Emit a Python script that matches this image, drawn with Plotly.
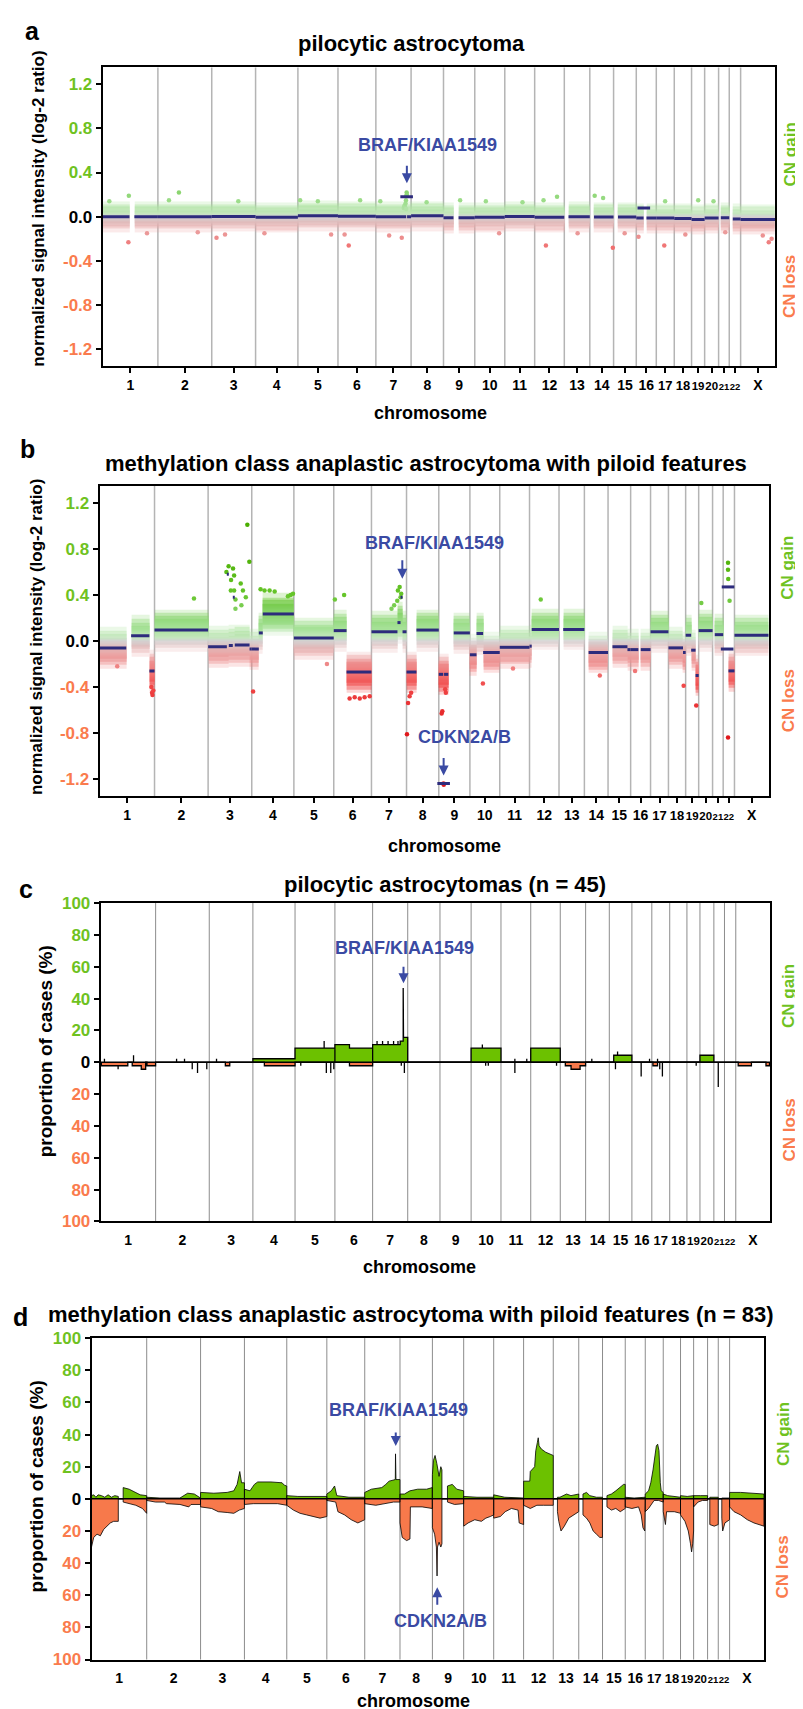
import numpy as np
import plotly.graph_objects as go

W, H = 803, 1709
FONT = "Liberation Sans, Arial, Helvetica, sans-serif"
GREEN = "#6fc21f"
ORANGE = "#fa7b4d"
BLUE = "#3a4aa3"
NAVY = "#2d2b7c"
FILL_G = "#6cc100"
FILL_L = "#f7794b"

# ---------------- genome ----------------
chrom_names = [str(i) for i in range(1, 23)] + ["X"]
chrom_len = [249.25, 243.20, 198.02, 191.15, 180.92, 171.12, 159.14, 146.36, 141.21,
             135.53, 135.01, 133.85, 115.17, 107.35, 102.53, 90.35, 81.20, 78.08,
             59.13, 63.03, 48.13, 51.30, 155.27]

# ---------------- panel a : segments (chrom, start Mb, end Mb, log2 mean) ----------------
a_seg_chr = [1, 1, 2, 3, 4, 5, 6, 7, 7, 7, 8, 9, 9, 10, 11, 12, 13, 14, 15, 16, 16, 16, 17, 18, 19, 20, 21, 22, 23]
a_seg_start = [0, 143, 0, 0, 0, 0, 0, 0, 137, 141, 0, 0, 68, 0, 0, 0, 19, 19, 20, 0, 33, 46, 0, 0, 0, 0, 10, 16, 0]
a_seg_end = [121, 249.25, 243.2, 198, 191.15, 180.9, 171.1, 137, 141, 159.1, 146.4, 45, 141.2, 135.5, 135, 133.8,
             115.2, 107.3, 102.5, 33, 35, 90.35, 81.2, 78.1, 59.1, 63, 48.1, 51.3, 155.3]
a_seg_mean = [0, 0, 0, 0.003, -0.005, 0.01, 0.005, 0, 0.18, 0, 0.008, -0.01, -0.01, -0.005, 0.003, -0.005,
              0, -0.003, -0.003, -0.012, 0.08, -0.012, -0.012, -0.015, -0.025, -0.012, -0.01, -0.02, -0.025]

a_out_chr = [1, 6, 12, 14, 17, 23, 3, 7, 1, 2, 14, 12, 9,
             7, 7, 7, 7, 7, 7, 7, 7, 7,
             1, 1, 2, 2, 3, 3, 4, 5, 5, 5, 6, 6, 7, 7, 8, 10, 10, 11, 12, 13, 14, 15, 16, 17, 18, 19, 20, 21, 23, 23]
a_out_pos = [116, 48.5, 50.7, 104, 36, 127, 21.5, 117, 118, 95, 22, 101, 75,
             126, 129, 131, 134, 136, 138, 139, 140, 137,
             30, 200, 50, 180, 120, 60, 40, 10, 90, 150, 100, 30, 20, 60, 70, 50, 110, 80, 40, 60, 60, 50, 10, 40, 50, 30, 40, 30, 100, 140]
a_out_val = [-0.23, -0.26, -0.26, -0.28, -0.26, -0.23, -0.19, -0.19, 0.19, 0.22, 0.19, 0.18, 0.15,
             0.08, 0.10, 0.09, 0.12, 0.15, 0.19, 0.22, 0.20, 0.07,
             0.14, -0.15, 0.15, -0.14, 0.14, -0.16, -0.15, 0.15, 0.14, -0.16, 0.15, -0.16, 0.14, -0.17,
             0.13, 0.14, -0.15, 0.13, 0.15, -0.15, 0.17, -0.15, -0.18, 0.14, -0.16, 0.15, 0.14, -0.14, -0.17, -0.2]

# ---------------- panel b : segments ----------------
b_seg_chr = [1, 1, 1, 2, 3, 3, 3, 3, 3, 3, 4, 4, 4, 5, 6, 6, 7, 7, 7, 7, 8, 8, 9, 9, 9, 9, 10, 10, 10, 11, 12, 12,
             13, 14, 15, 15, 16, 16, 17, 18, 18, 19, 19, 19, 20, 21, 22, 22, 22, 23]
b_seg_start = [0, 143, 226, 0, 0, 85, 94, 112, 121, 188, 0, 32, 50, 0, 0, 58, 0, 118, 132, 141, 0, 45, 0, 20, 24, 68,
               0, 30, 60, 0, 0, 10, 19, 19, 20, 88, 0, 46, 0, 0, 66, 0, 25, 45, 0, 10, 16, 20, 24, 0]
b_seg_end = [121, 226, 249.25, 243.2, 85, 94, 112, 121, 188, 198, 32, 50, 191.15, 180.9, 58, 171.1, 118, 132, 141,
             159.1, 45, 146.4, 20, 24, 43, 141.2, 30, 60, 135.5, 135, 10, 133.8, 115.2, 107.3, 88, 102.5, 35, 90.35,
             81.2, 66, 78.1, 25, 45, 59.1, 63, 48.1, 20, 24, 51.3, 155.3]
b_seg_mean = [-0.06, 0.045, -0.26, 0.095, -0.05, 0.58, -0.04, 0.38, -0.035, -0.07, -0.07, 0.07, 0.235, 0.025,
              0.09, -0.27, 0.08, 0.16, 0.38, 0.08, -0.27, 0.095, -0.29, -1.24, -0.29, 0.07, -0.12, 0.065, -0.10,
              -0.055, -0.045, 0.10, 0.10, -0.10, -0.05, -0.075, -0.075, -0.075, 0.08, -0.06, -0.10, 0.05, -0.08,
              -0.30, 0.09, 0.055, -0.07, 0.47, -0.26, 0.05]

b_out_chr = [3] * 15 + [4] * 8 + [1] * 4 + [6] * 7 + [8] * 4 + [9] * 6 + [7] * 7 + [22] * 5 + \
            [19, 18, 10, 2, 12, 20, 1, 5, 11, 14, 16]
b_out_pos = [93, 83, 113, 118, 104, 103, 118, 124, 148, 158, 171, 151, 187, 178, 124,
             40, 58, 81, 104, 164, 176, 187, 6,
             235, 238, 240, 244,
             72, 95, 118, 140, 163, 47, 5,
             7, 14, 21, 2,
             16, 13, 29, 32, 21.5, 22.5,
             120, 128, 135, 117, 103, 91, 132,
             22, 22, 23, 29, 22,
             48, 69, 59, 179, 51, 12, 80, 150, 60, 70, 20]
b_out_val = [0.65, 0.60, 0.63, 0.57, 0.53, 0.44, 0.44, 0.36, 0.50, 0.44, 0.38, 0.31, 0.69, 1.01, 0.28,
             0.45, 0.44, 0.44, 0.43, 0.39, 0.40, 0.41, -0.44,
             -0.40, -0.45, -0.47, -0.43,
             -0.50, -0.49, -0.50, -0.49, -0.48, 0.40, 0.36,
             -0.54, -0.48, -0.45, -0.81,
             -0.61, -0.63, -0.42, -0.45, -1.24, -1.25,
             0.44, 0.47, 0.41, 0.35, 0.31, 0.28, 0.38,
             0.68, 0.62, 0.54, 0.35, -0.84,
             -0.56, -0.39, -0.37, 0.37, 0.36, 0.33, -0.22, -0.2, -0.24, -0.3, -0.26]

# ---------------- panel c : proportion of cases (n = 45) ----------------
c_gain_chr = [4, 5, 6, 6, 7, 7, 7, 7, 10, 12, 15, 20]
c_gain_start = [0, 0, 0, 66, 0, 125, 138.6, 140, 0, 0, 20, 0]
c_gain_end = [191.15, 180.9, 66, 171.1, 125, 138.6, 140, 159.1, 135.5, 133.8, 102.5, 63]
c_gain_val = [2.2, 8.9, 11.1, 8.9, 11.1, 13.3, 46.7, 15.6, 8.9, 8.9, 4.4, 4.4]

c_loss_chr = [1, 1, 1, 1, 3, 4, 6, 13, 13, 13, 17, 23, 23]
c_loss_start = [3, 143, 184, 210, 73, 52, 66, 23, 49, 90, 5, 11, 137]
c_loss_end = [123, 184, 204, 249, 93, 191.15, 171.1, 49, 90, 115, 26, 71, 153]
c_loss_val = [-2.2, -2.2, -4.4, -2.2, -2.2, -2.2, -2.2, -2.2, -4.4, -2.2, -2.2, -2.2, -2.2]

c_spike_chr = [1, 1, 2, 2, 3, 5, 7, 7, 7, 7, 7, 10, 11, 11, 14, 15, 16, 17,
               1, 2, 2, 2, 5, 5, 5, 5, 7, 7, 10, 10, 11, 12, 15, 16, 17, 17, 19, 21]
c_spike_pos = [17, 149, 95, 131, 33, 132, 20, 45, 70, 95, 115, 51, 63, 117, 28, 37.5, 80, 26,
               79, 166, 190, 232, 26, 142, 162, 176, 130, 144, 66, 78, 63, 117, 28, 42, 36, 48, 42, 20]
c_spike_val = [2.2, 4.4, 2.2, 2.2, 2.2, 13.3, 13.3, 13.3, 13.3, 13.3, 13.3, 11.1, 2.2, 2.2, 2.2, 6.7, 2.2, 2.2,
               -4.4, -4.4, -6.7, -4.4, -2.2, -6.7, -6.7, -4.4, -2.2, -6.7, -2.2, -2.2, -6.7, -2.2, -4.4, -8.9,
               -4.4, -8.9, -2.2, -15.6]

# ---------------- panel d : proportion of cases (n = 83), per chromosome ----------------
d_gain_pos = [
    [0, 10, 20, 30, 45, 60, 75, 90, 105, 121, 121, 143, 143, 170, 195, 220, 249],
    [0, 60, 120, 150, 185, 215, 243],
    [0, 60, 120, 150, 165, 177, 185, 198],
    [0, 25, 45, 60, 120, 170, 180, 191],
    [0, 50, 181],
    [0, 20, 35, 45, 100, 171],
    [0, 30, 77, 95, 110, 138, 139, 139.6, 141, 159],
    [0, 20, 45, 80, 120, 146],
    [0, 5, 12, 20, 30, 38, 43, 43, 68, 68, 90, 110, 141],
    [0, 60, 135.5],
    [0, 50, 135],
    [0, 28, 30, 50, 55, 62, 66, 70, 80, 100, 133.8],
    [19, 30, 60, 80, 115],
    [19, 35, 50, 80, 107],
    [20, 40, 60, 80, 95, 102.5],
    [0, 40, 90],
    [0, 15, 25, 35, 45, 50, 56, 62, 68, 72, 81],
    [0, 20, 50, 78],
    [0, 30, 59],
    [0, 30, 63],
    [10, 48],
    [16, 51],
    [0, 50, 100, 155],
]
d_gain_val = [
    [2, 2.5, 1, 2.5, 2, 1, 2.5, 1, 2, 1.5, 0, 0, 7, 6, 4, 2.5, 2],
    [1, 0.5, 0.3, 0.5, 3.5, 3, 0.5],
    [4, 3.5, 4, 5, 9, 17, 10, 10],
    [6, 5, 9, 10.5, 10.5, 10, 8.5, 8],
    [2, 1.5, 1.5],
    [3, 5, 8, 2, 1, 1],
    [4, 6, 7, 9, 11, 12, 28, 12, 12, 12],
    [3, 3, 5, 6, 6, 7],
    [15, 24, 27, 22, 14, 20, 18, 0, 0, 8, 9, 6, 5],
    [1.5, 1, 1],
    [2.5, 1, 0.5],
    [11, 11, 17, 20, 30, 35, 38, 33, 31, 29, 27],
    [1, 1, 3, 2, 3],
    [3, 4, 2, 1, 1],
    [2, 3, 5, 7, 9, 9],
    [1, 0.5, 1],
    [3, 5, 10, 18, 28, 33, 34, 30, 10, 5, 4],
    [3, 2, 1.5, 1],
    [2, 1.5, 2],
    [2, 2, 2],
    [1, 1],
    [0.5, 0.5],
    [4, 4, 3.5, 3],
]
d_loss_pos = [
    [0, 10, 25, 40, 55, 70, 85, 100, 121, 121, 143, 143, 180, 200, 230, 240, 249],
    [0, 40, 80, 90, 150, 190, 200, 243],
    [0, 50, 80, 120, 150, 175, 198],
    [0, 40, 100, 150, 191],
    [0, 30, 60, 90, 120, 150, 181],
    [0, 40, 50, 80, 110, 140, 171],
    [0, 50, 100, 130, 159],
    [0, 10, 30, 45, 47, 100, 146],
    [0, 10, 18, 21, 23, 30, 38, 43, 43, 68, 68, 100, 141],
    [0, 20, 50, 80, 100, 120, 135.5],
    [0, 30, 52, 80, 110, 115, 135],
    [0, 30, 60, 90, 133.8],
    [19, 25, 35, 50, 70, 90, 115],
    [19, 35, 50, 65, 80, 95, 107],
    [20, 40, 60, 80, 102.5],
    [0, 30, 60, 72, 80, 88, 90],
    [0, 15, 25, 40, 60, 81],
    [0, 10, 15, 50, 78],
    [0, 20, 35, 45, 50, 55, 59],
    [0, 20, 40, 63],
    [10, 30, 48],
    [16, 20, 30, 40, 51],
    [0, 20, 50, 80, 110, 155],
]
d_loss_val = [
    [-30, -24, -22, -23, -19, -17, -15, -14, -14, 0, 0, -2, -3, -4, -6, -8, -9],
    [-1, -2, -2, -3, -3.5, -5, -3.5, -3.5],
    [-5, -6, -8, -8.5, -9, -7, -6],
    [-3.5, -3, -3, -3, -4],
    [-4, -7, -9, -10, -11, -12, -11],
    [-1, -2, -8, -10, -13, -15, -13],
    [-3, -4, -3, -2, -2],
    [-15, -24, -26, -25, -5, -5, -6],
    [-18, -22, -30, -48, -30, -27, -30, -28, 0, 0, -2, -3.5, -3],
    [-17, -15, -13, -14, -12, -11, -10],
    [-12, -11, -8, -6, -7, -15, -16],
    [-4, -6, -4, -4, -4],
    [-8, -14, -20, -17, -12, -10, -8],
    [-10, -12, -15, -20, -22, -24, -24],
    [-5, -7, -6, -8, -6],
    [-5, -6, -5, -10, -18, -20, -10],
    [-8, -6, -4, -1, -1, -2],
    [-8, -16, -8, -8, -9],
    [-10, -14, -20, -28, -33, -28, -20],
    [-5, -2, -1, -1],
    [-16, -17, -16],
    [-12, -20, -15, -14, -13],
    [-5, -8, -10, -13, -15, -17],
]

log_ticks = [-1.2, -0.8, -0.4, 0.0, 0.4, 0.8, 1.2]
pct_ticks = [-100, -80, -60, -40, -20, 0, 20, 40, 60, 80, 100]

# ---------------- helpers ----------------
offsets = np.concatenate([[0.0], np.cumsum(chrom_len)[:-1]])
genome_total = float(np.sum(chrom_len))
chrom_mid = offsets + np.asarray(chrom_len) / 2.0
bounds = np.cumsum(chrom_len)[:-1]


def gp(c, p):
    return float(offsets[c - 1] + p)


def fx(px):
    return px / W


def fy(py):
    return 1 - py / H


CS = [[0.0, "#e0181c"], [0.25, "#f04545"], [0.34375, "#f07a7a"], [0.4375, "#e9a7a7"],
      [0.48125, "#dcc2c2"], [0.5, "#d2d2d2"], [0.51875, "#c4e6bd"], [0.5625, "#a6e198"],
      [0.65625, "#84d266"], [0.75, "#66c52a"], [1.0, "#4aae00"]]

y_edges = np.round(np.arange(-135, 136) * 0.01, 2)
y_mid = (y_edges[:-1] + y_edges[1:]) / 2


def cloud_columns(chrs, starts, ends, means, min_len=10):
    segs = sorted((gp(c, s), gp(c, e), m, c) for c, s, e, m in zip(chrs, starts, ends, means))
    edges, cols, base = [], [], {}
    for s, e, m, c in segs:
        if edges and s < edges[-1]:
            s = edges[-1]
            if e <= s:
                continue
        if not edges:
            edges.append(s)
        elif s > edges[-1] + 1e-9:
            cols.append(None)
            edges.append(s)
        if e - s >= min_len:
            v = m
            base[c] = m
        else:
            v = base.get(c)
        cols.append(v)
        edges.append(e)
    return edges, cols


def cloud_z(cols, spread):
    return [[float(yc) if (m is not None and abs(yc - m) <= spread) else None for m in cols] for yc in y_mid]


fig = go.Figure()


def add_log_panel(k, chrs, starts, ends, means, ochr, opos, oval, spreads):
    xa, ya = "x" + ("" if k == 1 else str(k)), "y" + ("" if k == 1 else str(k))
    edges, cols = cloud_columns(chrs, starts, ends, means)
    for sp, op in spreads:
        fig.add_trace(go.Heatmap(x=edges, y=y_edges, z=cloud_z(cols, sp), colorscale=CS, zmin=-0.8, zmax=0.8,
                                 showscale=False, opacity=op, hoverinfo="skip", xaxis=xa, yaxis=ya))
    fig.add_trace(go.Scatter(x=[gp(c, p) for c, p in zip(ochr, opos)], y=oval, mode="markers",
                             marker=dict(size=4.5, color=oval, colorscale=CS, cmin=-0.8, cmax=0.8),
                             hoverinfo="skip", xaxis=xa, yaxis=ya))
    lx, ly, mx, my = [], [], [], []
    for c, s, e, m in zip(chrs, starts, ends, means):
        if e - s < 8:
            mx.append((gp(c, s) + gp(c, e)) / 2)
            my.append(m)
        else:
            lx += [gp(c, s), gp(c, e), None]
            ly += [m, m, None]
    fig.add_trace(go.Scatter(x=lx, y=ly, mode="lines", line=dict(color=NAVY, width=3),
                             hoverinfo="skip", xaxis=xa, yaxis=ya))
    fig.add_trace(go.Scatter(x=mx, y=my, mode="markers",
                             marker=dict(symbol="line-ew", size=9, line=dict(color=NAVY, width=3)),
                             hoverinfo="skip", xaxis=xa, yaxis=ya))


add_log_panel(1, a_seg_chr, a_seg_start, a_seg_end, a_seg_mean, a_out_chr, a_out_pos, a_out_val,
              [(0.135, 0.22), (0.11, 0.4), (0.085, 0.6), (0.06, 0.85)])
add_log_panel(2, b_seg_chr, b_seg_start, b_seg_end, b_seg_mean, b_out_chr, b_out_pos, b_out_val,
              [(0.18, 0.22), (0.15, 0.4), (0.12, 0.6), (0.09, 0.85)])


def step_path(chrs, starts, ends, vals):
    segs = sorted((gp(c, s), gp(c, e), v) for c, s, e, v in zip(chrs, starts, ends, vals))
    xs, ys, prev = [], [], None
    for s, e, v in segs:
        if prev is not None and abs(s - prev) < 1e-6:
            xs += [s, e]
            ys += [v, v]
        else:
            if prev is not None:
                xs.append(prev)
                ys.append(0)
            xs += [s, s, e]
            ys += [0, v, v]
        prev = e
    xs.append(prev)
    ys.append(0)
    return xs, ys


# panel c
sx, sy = [], []
for c, p, v in zip(c_spike_chr, c_spike_pos, c_spike_val):
    sx += [gp(c, p), gp(c, p), None]
    sy += [0, v, None]
fig.add_trace(go.Scatter(x=sx, y=sy, mode="lines", line=dict(color="black", width=1.3),
                         hoverinfo="skip", xaxis="x3", yaxis="y3"))
for chrs, st, en, va, col in [(c_gain_chr, c_gain_start, c_gain_end, c_gain_val, FILL_G),
                              (c_loss_chr, c_loss_start, c_loss_end, c_loss_val, FILL_L)]:
    xs, ys = step_path(chrs, st, en, va)
    fig.add_trace(go.Scatter(x=xs, y=ys, mode="lines", fill="tozeroy", fillcolor=col,
                             line=dict(color="black", width=1.3), hoverinfo="skip", xaxis="x3", yaxis="y3"))

# panel d
for plist, vlist, col in [(d_gain_pos, d_gain_val, FILL_G), (d_loss_pos, d_loss_val, FILL_L)]:
    xs, ys = [], []
    for i, (ps, vs) in enumerate(zip(plist, vlist)):
        xs.append(gp(i + 1, ps[0]))
        ys.append(0)
        xs += [gp(i + 1, p) for p in ps]
        ys += list(vs)
        xs.append(gp(i + 1, ps[-1]))
        ys.append(0)
    fig.add_trace(go.Scatter(x=xs, y=ys, mode="lines", fill="tozeroy", fillcolor=col,
                             line=dict(color="black", width=0.8), hoverinfo="skip", xaxis="x4", yaxis="y4"))

# ---------------- axes ----------------
doms = {1: ([94.7, 767], [51, 353]), 2: ([91.6, 760.7], [474, 788]),
        3: ([92.7, 762], [896, 1218]), 4: ([83.5, 756], [1336, 1661])}


def colored(v, txt):
    if v > 0:
        return '<span style="color:%s">%s</span>' % (GREEN, txt)
    if v < 0:
        return '<span style="color:%s">%s</span>' % (ORANGE, txt)
    return txt


# crowded small chromosomes get a smaller label so neighbouring labels do not collide
small_label_size = {"17": 13, "18": 13, "19": 11.5, "20": 11.5, "21": 9.5, "22": 9.5}
chrom_ticktext = ['<span style="font-size:%spx">%s</span>' % (small_label_size[n], n)
                  if n in small_label_size else n for n in chrom_names]

layout_axes = {}
for k, (xd, yd) in doms.items():
    sfx = "" if k == 1 else str(k)
    log_panel = k in (1, 2)
    layout_axes["xaxis" + sfx] = dict(
        domain=[fx(xd[0]), fx(xd[1])], range=[0, genome_total], anchor="y" + sfx,
        tickvals=list(chrom_mid), ticktext=chrom_ticktext, tickangle=0,
        ticks="outside", ticklen=5, tickwidth=1.5,
        tickcolor="black" if log_panel else "rgba(0,0,0,0)",
        tickfont=dict(family=FONT, size=14, color="black", weight="bold"),
        showline=True, linecolor="black", linewidth=2, mirror=True,
        showgrid=False, zeroline=False, fixedrange=True)
    if log_panel:
        tv = log_ticks
        tt = [colored(v, "%.1f" % v) for v in tv]
        rng = [-1.35, 1.35]
    else:
        tv = pct_ticks
        tt = [colored(v, str(abs(v))) for v in tv]
        rng = [-100, 100]
    layout_axes["yaxis" + sfx] = dict(
        domain=[fy(yd[1]), fy(yd[0])], range=rng, anchor="x" + sfx,
        tickvals=tv, ticktext=tt, ticks="outside", ticklen=5, tickwidth=2, tickcolor="black",
        tickfont=dict(family=FONT, size=17, color="black", weight="bold"),
        showline=True, linecolor="black", linewidth=2, mirror=True,
        showgrid=False, zeroline=False, fixedrange=True)

shapes = []
for k in doms:
    sfx = "" if k == 1 else str(k)
    col = "#b4b4b4" if k in (1, 2) else "#8c8c8c"
    wid = 1.5 if k in (1, 2) else 1.0
    for b in bounds:
        shapes.append(dict(type="line", xref="x" + sfx, yref="y" + sfx + " domain", x0=float(b), x1=float(b),
                           y0=0, y1=1, line=dict(color=col, width=wid), layer="below"))
for k in (3, 4):
    shapes.append(dict(type="line", xref="x%d domain" % k, yref="y%d" % k, x0=0, x1=1, y0=0, y1=0,
                       line=dict(color="black", width=1.5), layer="above"))

annotations = []


def ann(text, x, y, size, color="black", angle=0):
    annotations.append(dict(text=text, x=fx(x), y=fy(y), xref="paper", yref="paper", showarrow=False,
                            textangle=angle, xanchor="center", yanchor="middle",
                            font=dict(family=FONT, size=size, color=color, weight="bold")))


# panel letters and titles
for t, x, y in [("a", 24, 14), ("b", 19, 437), ("c", 18, 882), ("d", 12, 1315)]:
    ann(t, x, y, 25)
for t, x, y in [("pilocytic astrocytoma", 403, 27),
                ("methylation class anaplastic astrocytoma with piloid features", 418, 452),
                ("pilocytic astrocytomas (n = 45)", 437, 877),
                ("methylation class anaplastic astrocytoma with piloid features (n = 83)", 403, 1312)]:
    ann(t, x, y, 22)
# axis titles
ann("normalized signal intensity (log-2 ratio)", 31, 194, 17, angle=-90)
ann("normalized signal intensity (log-2 ratio)", 28, 627, 17, angle=-90)
ann("proportion of cases (%)", 37, 1046, 19, angle=-90)
ann("proportion of cases (%)", 28, 1486, 19, angle=-90)
for x, y in [(422, 400), (437, 838), (411, 1264), (405, 1703)]:
    ann("chromosome", x, y, 18)
for x, yg, yl in [(782, 139, 273), (780, 557, 692), (781, 990, 1126), (775, 1433, 1568)]:
    ann("CN gain", x, yg, 17, GREEN, -90)
    ann("CN loss", x, yl, 17, ORANGE, -90)
# gene labels
for t, x, y in [("BRAF/KIAA1549", 419, 129), ("BRAF/KIAA1549", 426, 532), ("CDKN2A/B", 456, 728),
                ("BRAF/KIAA1549", 396, 941), ("BRAF/KIAA1549", 390, 1409), ("CDKN2A/B", 432, 1622)]:
    ann(t, x, y, 18, BLUE)
# arrows (head at data x, paper y)
for k, chrom, pos, head, tail in [(1, 7, 140, 168, 149), (2, 7, 140, 568, 548), (2, 9, 22, 767, 748),
                                  (3, 7, 140, 977, 959), (4, 7, 140, 1445, 1430), (4, 9, 22, 1588, 1607)]:
    sfx = "" if k == 1 else str(k)
    annotations.append(dict(x=gp(chrom, pos), y=fy(head), xref="x" + sfx, yref="paper", text="",
                            showarrow=True, ax=0, ay=tail - head, arrowhead=2, arrowsize=1,
                            arrowwidth=2, arrowcolor=BLUE, standoff=0))

fig.update_layout(width=W, height=H, margin=dict(l=0, r=0, t=0, b=0), paper_bgcolor="white",
                  plot_bgcolor="white", showlegend=False, shapes=shapes, annotations=annotations,
                  font=dict(family=FONT), **layout_axes)

fig.write_html("out.html")
